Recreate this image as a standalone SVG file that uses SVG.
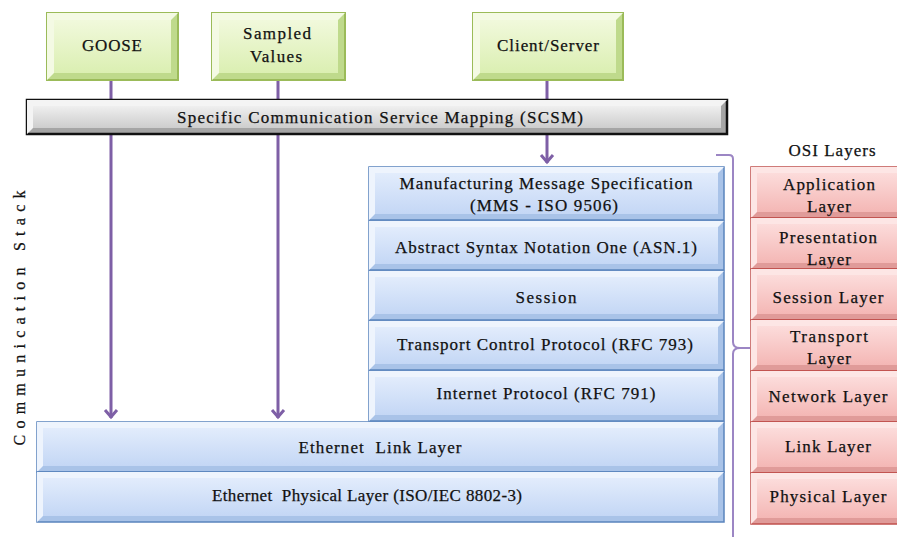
<svg xmlns="http://www.w3.org/2000/svg" width="897" height="537" viewBox="0 0 897 537" font-family="'Liberation Serif', 'DejaVu Serif', serif">
<defs>
<linearGradient id="gG" x1="0" y1="0" x2="0" y2="1"><stop offset="0" stop-color="#f1f9dc"/><stop offset="1" stop-color="#dbefb2"/></linearGradient>
<linearGradient id="gB" x1="0" y1="0" x2="0" y2="1"><stop offset="0" stop-color="#e2ecfc"/><stop offset="1" stop-color="#c4d7f5"/></linearGradient>
<linearGradient id="gR" x1="0" y1="0" x2="0" y2="1"><stop offset="0" stop-color="#fcdcdb"/><stop offset="1" stop-color="#f4b7b5"/></linearGradient>
<linearGradient id="gS" x1="0" y1="0" x2="0" y2="1"><stop offset="0" stop-color="#efefef"/><stop offset="1" stop-color="#cdcdcd"/></linearGradient>
<marker id="ah" viewBox="-10 -8 12 16" markerWidth="12" markerHeight="16" refX="0" refY="0" orient="auto" markerUnits="userSpaceOnUse">
<path d="M-8,-6 L-1,0 L-8,6" fill="none" stroke="#7e5fa6" stroke-width="3"/>
</marker>
<style>
text{font-family:'Liberation Serif','DejaVu Serif',serif;font-size:17px;fill:#111;text-anchor:middle;stroke:#111;stroke-width:0.25px}
.con{stroke:#7e5fa6;stroke-width:3;fill:none}
.brace{stroke:#9c86c4;stroke-width:2;fill:none}
.gO{fill:#bfda8c;stroke:#9bbb59;stroke-width:2}
.gL{fill:#f4fae4}
.gF{fill:url(#gG)}
.bO{fill:#a9c3e8;stroke:#5a84bd;stroke-width:1.5}
.bL{fill:#eef4fd}
.bF{fill:url(#gB)}
.rO{fill:#e09b99;stroke:#c0504d;stroke-width:1.5}
.rL{fill:#fde6e5}
.rF{fill:url(#gR)}
.sO{fill:#a5a5a5;stroke:#111;stroke-width:2.5}
.sL{fill:#f4f4f4}
.sF{fill:url(#gS)}
.vt{font-size:16px}
</style>
</defs>

<g id="connectors">
<line class="con" x1="111" y1="80" x2="111" y2="418" marker-end="url(#ah)"/>
<line class="con" x1="278" y1="80" x2="278" y2="418" marker-end="url(#ah)"/>
<line class="con" x1="547" y1="80" x2="547" y2="163" marker-end="url(#ah)"/>
<path class="brace" d="M716,155 L729,155 Q733,155 733,159 L733,342 Q733,348 740,348 L750,348 M740,348 Q733,348 733,354 L733,540"/>
</g>

<g id="goose">
<rect class="gO" x="47" y="13" width="131" height="67"/>
<polygon class="gL" points="47,13 178,13 171,20 54,20 54,73 47,80"/>
<rect class="gF" x="54" y="20" width="117" height="53"/>
<text x="112" y="51" textLength="60">GOOSE</text>
</g>

<g id="sampled-values">
<rect class="gO" x="212" y="13" width="133" height="67"/>
<polygon class="gL" points="212,13 345,13 338,20 219,20 219,73 212,80"/>
<rect class="gF" x="219" y="20" width="119" height="53"/>
<text x="277" y="39" textLength="68">Sampled</text>
<text x="276" y="62" textLength="52">Values</text>
</g>

<g id="client-server">
<rect class="gO" x="473" y="13" width="150" height="67"/>
<polygon class="gL" points="473,13 623,13 616,20 480,20 480,73 473,80"/>
<rect class="gF" x="480" y="20" width="136" height="53"/>
<text x="548" y="51" textLength="102">Client/Server</text>
</g>

<g id="scsm">
<rect class="sO" x="27" y="100" width="700" height="34"/>
<polygon class="sL" points="27,100 727,100 721,106 33,106 33,128 27,134"/>
<rect class="sF" x="33" y="106" width="688" height="22"/>
<text x="380" y="123" textLength="406">Specific Communication Service Mapping (SCSM)</text>
</g>

<g id="mms">
<rect class="bO" x="369" y="167" width="355" height="53"/>
<polygon class="bL" points="369,167 724,167 718,173 375,173 375,214 369,220"/>
<rect class="bF" x="375" y="173" width="343" height="41"/>
<text x="546" y="189" textLength="293">Manufacturing Message Specification</text>
<text x="544" y="211" textLength="148">(MMS - ISO 9506)</text>
</g>

<g id="asn1">
<rect class="bO" x="369" y="221" width="355" height="49"/>
<polygon class="bL" points="369,221 724,221 718,227 375,227 375,264 369,270"/>
<rect class="bF" x="375" y="227" width="343" height="37"/>
<text x="546" y="253" textLength="302">Abstract Syntax Notation One (ASN.1)</text>
</g>

<g id="session">
<rect class="bO" x="369" y="271" width="355" height="49"/>
<polygon class="bL" points="369,271 724,271 718,277 375,277 375,314 369,320"/>
<rect class="bF" x="375" y="277" width="343" height="37"/>
<text x="546" y="303" textLength="61">Session</text>
</g>

<g id="tcp">
<rect class="bO" x="369" y="321" width="355" height="49"/>
<polygon class="bL" points="369,321 724,321 718,327 375,327 375,364 369,370"/>
<rect class="bF" x="375" y="327" width="343" height="37"/>
<text x="545" y="350" textLength="296">Transport Control Protocol (RFC 793)</text>
</g>

<g id="ip">
<rect class="bO" x="369" y="371" width="355" height="50"/>
<polygon class="bL" points="369,371 724,371 718,377 375,377 375,415 369,421"/>
<rect class="bF" x="375" y="377" width="343" height="38"/>
<text x="546" y="399" textLength="219">Internet Protocol (RFC 791)</text>
</g>

<g id="ethernet-link">
<rect class="bO" x="37" y="422" width="687" height="50"/>
<polygon class="bL" points="37,422 724,422 718,428 43,428 43,466 37,472"/>
<rect class="bF" x="43" y="428" width="675" height="38"/>
<text x="380" y="453" textLength="163" xml:space="preserve">Ethernet  Link Layer</text>
</g>

<g id="ethernet-physical">
<rect class="bO" x="37" y="472" width="687" height="50"/>
<polygon class="bL" points="37,472 724,472 718,478 43,478 43,516 37,522"/>
<rect class="bF" x="43" y="478" width="675" height="38"/>
<text x="367" y="501" textLength="310" xml:space="preserve">Ethernet  Physical Layer (ISO/IEC 8802-3)</text>
</g>

<g id="comm-stack-label">
<text class="vt" transform="translate(25,318) rotate(-90)" textLength="255">Communication Stack</text>
</g>

<g id="osi-title">
<text x="832" y="156" textLength="87">OSI Layers</text>
</g>

<g id="osi-application">
<rect class="rO" x="751" y="167" width="154" height="51"/>
<polygon class="rL" points="751,167 905,167 899,173 757,173 757,212 751,218"/>
<rect class="rF" x="757" y="173" width="142" height="39"/>
<text x="829" y="190" textLength="92">Application</text>
<text x="829" y="212" textLength="44">Layer</text>
</g>

<g id="osi-presentation">
<rect class="rO" x="751" y="218" width="154" height="51"/>
<polygon class="rL" points="751,218 905,218 899,224 757,224 757,263 751,269"/>
<rect class="rF" x="757" y="224" width="142" height="39"/>
<text x="828" y="243" textLength="98">Presentation</text>
<text x="829" y="265" textLength="44">Layer</text>
</g>

<g id="osi-session">
<rect class="rO" x="751" y="269" width="154" height="51"/>
<polygon class="rL" points="751,269 905,269 899,275 757,275 757,314 751,320"/>
<rect class="rF" x="757" y="275" width="142" height="39"/>
<text x="828" y="303" textLength="111">Session Layer</text>
</g>

<g id="osi-transport">
<rect class="rO" x="751" y="320" width="154" height="51"/>
<polygon class="rL" points="751,320 905,320 899,326 757,326 757,365 751,371"/>
<rect class="rF" x="757" y="326" width="142" height="39"/>
<text x="829" y="342" textLength="78">Transport</text>
<text x="829" y="364" textLength="44">Layer</text>
</g>

<g id="osi-network">
<rect class="rO" x="751" y="371" width="154" height="51"/>
<polygon class="rL" points="751,371 905,371 899,377 757,377 757,416 751,422"/>
<rect class="rF" x="757" y="377" width="142" height="39"/>
<text x="828" y="402" textLength="119">Network Layer</text>
</g>

<g id="osi-link">
<rect class="rO" x="751" y="422" width="154" height="51"/>
<polygon class="rL" points="751,422 905,422 899,428 757,428 757,467 751,473"/>
<rect class="rF" x="757" y="428" width="142" height="39"/>
<text x="828" y="452" textLength="86">Link Layer</text>
</g>

<g id="osi-physical">
<rect class="rO" x="751" y="473" width="154" height="51"/>
<polygon class="rL" points="751,473 905,473 899,479 757,479 757,518 751,524"/>
<rect class="rF" x="757" y="479" width="142" height="39"/>
<text x="828" y="502" textLength="117">Physical Layer</text>
</g>
</svg>
